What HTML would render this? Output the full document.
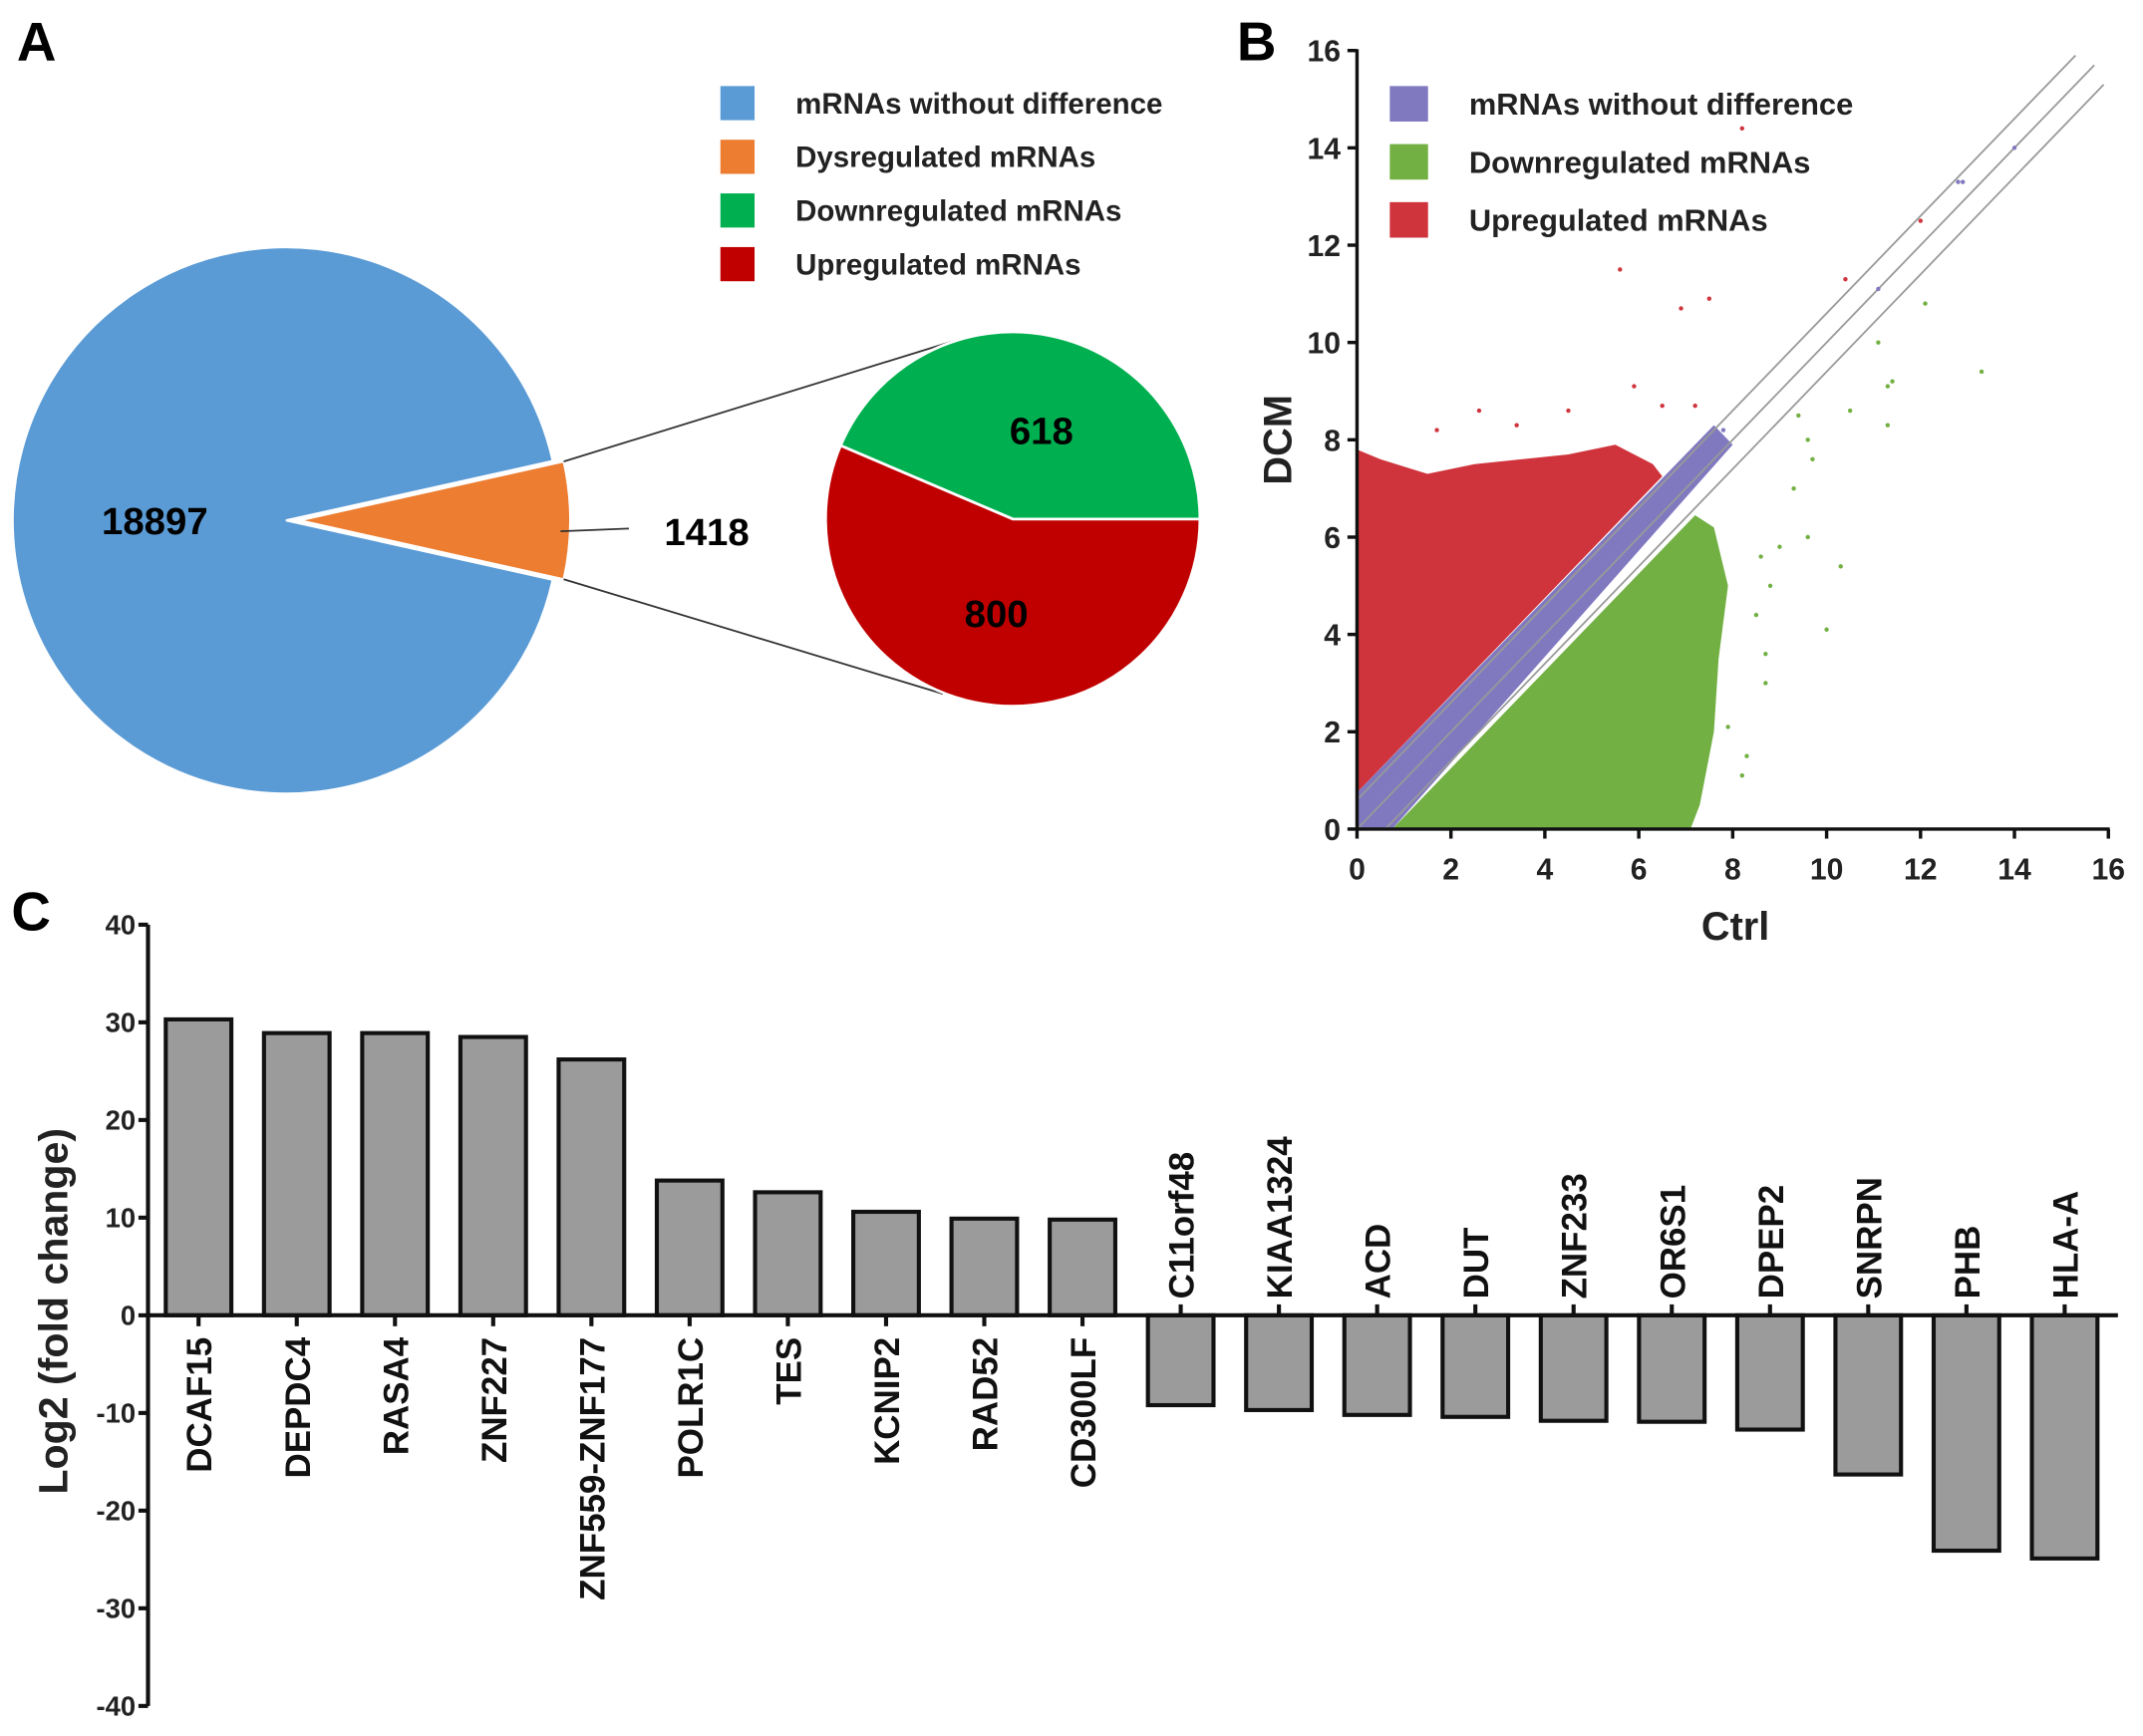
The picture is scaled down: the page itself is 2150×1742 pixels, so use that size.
<!DOCTYPE html>
<html><head><meta charset="utf-8"><style>
html,body{margin:0;padding:0;background:#fff;}
svg{display:block;font-family:"Liberation Sans",Arial,sans-serif;font-weight:bold;}
</style></head><body>
<svg id="fig" width="2150" height="1742" viewBox="0 0 1568 1271">
<rect width="1568" height="1271" fill="#fff"/>
<g id="panelA"></g>
<g id="panelB"></g>
<g id="panelC"></g>
</svg>
<script>
// ---------- Panel A data ----------
const pieCounts = [18897, 1418];
const subCounts = [618, 800];
const legendA = ["mRNAs without difference","Dysregulated mRNAs","Downregulated mRNAs","Upregulated mRNAs"];
// ---------- Panel B data ----------
const upRegion = [[0,0.75],[6.5,7.25],[6.3,7.5],[5.5,7.9],[4.5,7.7],[3.5,7.6],[2.5,7.5],[1.5,7.3],[0.5,7.6],[0,7.8]];
const downRegion = [[0.75,0],[7.2,6.45],[7.6,6.2],[7.9,5],[7.7,3.5],[7.6,2],[7.3,0.5],[7.1,0]];
const bandRegion = [[0,0],[0,0.75],[7.6,8.3],[8,7.9],[0.75,0]];
const upPts = [[5.6,11.5],[6.9,10.7],[7.5,10.9],[8.2,14.4],[10.4,11.3],[12,12.5],[5.9,9.1],[2.6,8.6],[4.5,8.6],[6.5,8.7],[7.2,8.7],[3.4,8.3],[1.7,8.2]];
const nodiffPts = [[11.1,11.1],[12.8,13.3],[12.9,13.3],[14,14],[7.8,8.2]];
const downPts = [[12.1,10.8],[11.1,10],[11.4,9.2],[11.3,9.1],[13.3,9.4],[10.5,8.6],[11.3,8.3],[10.3,5.4],[10,4.1],[9.4,8.5],[9.6,8],[9.7,7.6],[9.3,7],[9.6,6],[9,5.8],[8.6,5.6],[8.8,5],[8.7,3.6],[8.7,3],[8.5,4.4],[8.3,1.5],[8.2,1.1],[7.9,2.1]];
const lineOffsets = [0.6, 0, -0.6];
const ticksB = [0,2,4,6,8,10,12,14,16];
const legendB = ["mRNAs without difference","Downregulated mRNAs","Upregulated mRNAs"];
// ---------- Panel C data ----------
const genes = ["DCAF15","DEPDC4","RASA4","ZNF227","ZNF559-ZNF177","POLR1C","TES","KCNIP2","RAD52","CD300LF","C11orf48","KIAA1324","ACD","DUT","ZNF233","OR6S1","DPEP2","SNRPN","PHB","HLA-A"];
const foldChange = [30.3,28.9,28.9,28.5,26.2,13.8,12.6,10.6,9.9,9.8,-9.2,-9.7,-10.2,-10.4,-10.8,-10.9,-11.7,-16.3,-24.1,-24.9];
const ticksC = [40,30,20,10,0,-10,-20,-30,-40];

const NS="http://www.w3.org/2000/svg";
function mk(parent, tag, attrs, text){
  const e=document.createElementNS(NS,tag);
  for(const k in attrs) e.setAttribute(k, attrs[k]);
  if(text!==undefined) e.textContent=text;
  parent.appendChild(e); return e;
}

// ===== Panel A =====
const A=document.getElementById('panelA');
let t=mk(A,'text',{x:12,y:44,'font-size':40},'A');


const cx=209, cy=381, R=200;
const total=pieCounts[0]+pieCounts[1];
const half=Math.PI*pieCounts[1]/total;
function arcPath(x,y,r,a0,a1){
  const large=(a1-a0)>Math.PI?1:0;
  return `M${x},${y} L${x+r*Math.cos(a0)},${y+r*Math.sin(a0)} A${r},${r} 0 ${large} 1 ${x+r*Math.cos(a1)},${y+r*Math.sin(a1)} Z`;
}
let p=mk(A,'path',{d:arcPath(cx,cy,R,half,2*Math.PI-half),fill:'#5b9bd5',stroke:'#fff','stroke-width':1.5});


const ex=10;
p=mk(A,'path',{d:arcPath(cx+ex,cy,R-2,-half,half),fill:'#ed7d31',stroke:'#fff','stroke-width':1.5});


t=mk(A,'text',{x:113,y:391,'font-size':28,'text-anchor':'middle'},String(pieCounts[0]));


let l=mk(A,'line',{x1:410,y1:389,x2:460,y2:387,stroke:'#333','stroke-width':1.3});


t=mk(A,'text',{x:517,y:399,'font-size':28,'text-anchor':'middle'},String(pieCounts[1]));


l=mk(A,'line',{x1:cx+ex+(R-2)*Math.cos(-half),y1:cy+(R-2)*Math.sin(-half),x2:700,y2:249,stroke:'#333','stroke-width':1.3});


l=mk(A,'line',{x1:cx+ex+(R-2)*Math.cos(half),y1:cy+(R-2)*Math.sin(half),x2:690,y2:508,stroke:'#333','stroke-width':1.3});


const scx=741, scy=380, sr=137;
const subTot=subCounts[0]+subCounts[1];
const gAng=2*Math.PI*subCounts[0]/subTot;
p=mk(A,'path',{d:arcPath(scx,scy,sr,-gAng,0),fill:'#00b050',stroke:'#fff','stroke-width':2});


p=mk(A,'path',{d:arcPath(scx,scy,sr,0,2*Math.PI-gAng),fill:'#c00000',stroke:'#fff','stroke-width':2});


t=mk(A,'text',{x:762,y:325,'font-size':28,'text-anchor':'middle'},String(subCounts[0]));


t=mk(A,'text',{x:729,y:459,'font-size':28,'text-anchor':'middle'},String(subCounts[1]));


const legColA=['#5b9bd5','#ed7d31','#00b050','#c00000'];
legendA.forEach((s,i)=>{
  const y=63+i*39.3;
  const g=mk(A,'g',{});
  
  
  mk(g,'rect',{x:527,y:y,width:25,height:25,fill:legColA[i]});
  mk(g,'text',{x:582,y:y+20,'font-size':21.5,fill:'#222'},s);
});

// ===== Panel B =====
const B=document.getElementById('panelB');
t=mk(B,'text',{x:905,y:44,'font-size':40},'B');


const bx=v=>993+v*(1543-993)/16;
const by=v=>607-v*(607-37)/16;
function poly(pts,fill,name){
  const e=mk(B,'polygon',{points:pts.map(q=>bx(q[0])+','+by(q[1])).join(' '),fill:fill});
  
  
}
poly(upRegion,'#cf343c','upregulated-cloud');
poly(downRegion,'#72b043','downregulated-cloud');
poly(bandRegion,'#8079c0','no-difference-band');
lineOffsets.forEach(o=>{
  const x0=Math.max(0,-o), y0=x0+o, x1=15.3+(o<0?0.6:0)+(o===0?0.4:0), y1=x1+o;
  const e=mk(B,'line',{x1:bx(x0),y1:by(y0),x2:bx(x1),y2:by(y1),stroke:'#999','stroke-width':1.3});
  
  
});
function pts(arr,fill,name){
  arr.forEach(q=>{
    const e=mk(B,'circle',{cx:bx(q[0]),cy:by(q[1]),r:1.6,fill:fill});
    
    
  });
}
pts(upPts,'#cf343c','up-point');
pts(nodiffPts,'#8079c0','nodiff-point');
pts(downPts,'#72b043','down-point');
l=mk(B,'line',{x1:bx(0),y1:by(16)-1,x2:bx(0),y2:by(0),stroke:'#111','stroke-width':2.5});


l=mk(B,'line',{x1:bx(0),y1:by(0),x2:bx(16)+1,y2:by(0),stroke:'#111','stroke-width':2.5});


ticksB.forEach(v=>{
  mk(B,'line',{x1:bx(v),y1:by(0),x2:bx(v),y2:by(0)+7,stroke:'#111','stroke-width':2.5});
  mk(B,'line',{x1:bx(0)-7,y1:by(v),x2:bx(0),y2:by(v),stroke:'#111','stroke-width':2.5});
  let e=mk(B,'text',{x:bx(v),y:644,'font-size':22,'text-anchor':'middle',fill:'#222'},String(v));
  
  
  e=mk(B,'text',{x:981,y:by(v)+8,'font-size':22,'text-anchor':'end',fill:'#222'},String(v));
  
  
});
t=mk(B,'text',{x:1270,y:688,'font-size':29,'text-anchor':'middle',fill:'#222'},'Ctrl');


t=mk(B,'text',{x:0,y:0,'font-size':29,'text-anchor':'middle',fill:'#222',transform:'translate(945,322) rotate(-90)'},'DCM');


const legColB=['#8079c0','#72b043','#cf343c'];
legendB.forEach((s,i)=>{
  const y=63+i*42.5;
  const g=mk(B,'g',{});
  
  
  mk(g,'rect',{x:1017,y:y,width:28,height:26,fill:legColB[i]});
  mk(g,'text',{x:1075,y:y+21,'font-size':22.5,fill:'#222'},s);
});

// ===== Panel C =====
const C=document.getElementById('panelC');
t=mk(C,'text',{x:8,y:681,'font-size':40},'C');


const cy0=963, upx=(963-677)/40;
const yc=v=>cy0-v*upx;
const xc=i=>145+i*(1511-145)/(genes.length-1);
const bw=48;
foldChange.forEach((v,i)=>{
  const top=Math.min(yc(v),yc(0)), h=Math.abs(yc(v)-yc(0));
  const e=mk(C,'rect',{x:xc(i)-bw/2,y:top,width:bw,height:h,fill:'#9b9b9b',stroke:'#111','stroke-width':3});
  
  
});
l=mk(C,'line',{x1:108,y1:yc(0),x2:1550,y2:yc(0),stroke:'#111','stroke-width':3});


l=mk(C,'line',{x1:108,y1:yc(40),x2:108,y2:yc(-40),stroke:'#111','stroke-width':3});


ticksC.forEach(v=>{
  mk(C,'line',{x1:101,y1:yc(v),x2:108,y2:yc(v),stroke:'#111','stroke-width':3});
  const e=mk(C,'text',{x:99,y:yc(v)+7,'font-size':20,'text-anchor':'end',fill:'#222'},String(v));
  
  
});
genes.forEach((g,i)=>{
  const v=foldChange[i];
  mk(C,'line',{x1:xc(i),y1:yc(0),x2:xc(i),y2:yc(0)+(v>0?8:-8),stroke:'#111','stroke-width':3});
  const ty = v>0 ? 979 : 951;
  const e=mk(C,'text',{x:0,y:0,'font-size':25.5,'text-anchor':v>0?'end':'start',fill:'#111',transform:`translate(${xc(i)+9.5},${ty}) rotate(-90)`},g);
  
  
});
t=mk(C,'text',{x:0,y:0,'font-size':30,'text-anchor':'middle',fill:'#222',transform:'translate(49,960) rotate(-90)'},'Log2 (fold change)');


</script>
</body></html>
